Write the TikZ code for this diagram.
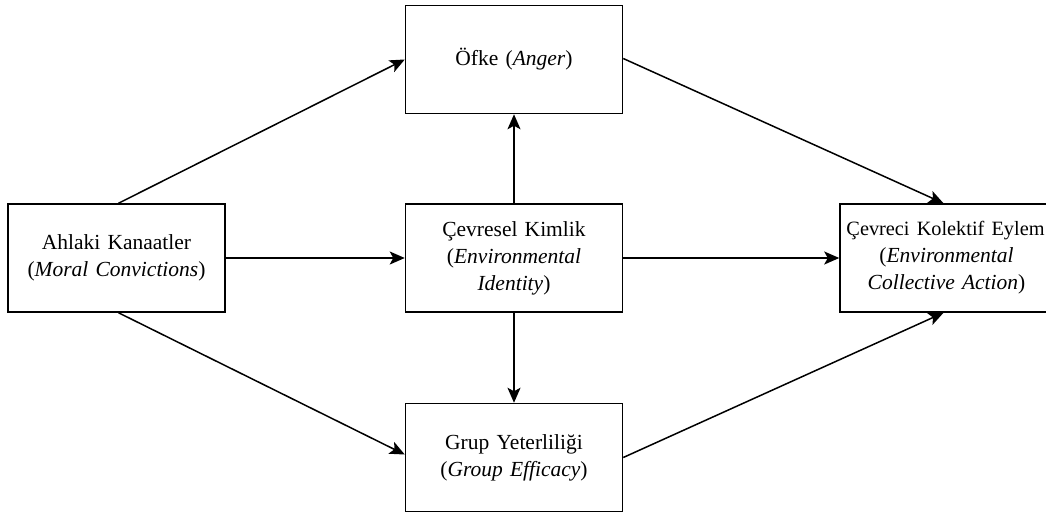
\documentclass[tikz,border=0pt]{standalone}
\usepackage{fontspec}
\setmainfont{Liberation Serif}
\usetikzlibrary{arrows.meta,positioning,calc}

\begin{document}
\begin{tikzpicture}[x=1pt,y=1pt]

  \tikzstyle{every node}=[font=\fontsize{21.5}{27}\selectfont]

  \tikzset{varbox/.style={draw,line width=1.5pt,minimum width=217,minimum height=108,
      text width=212,align=center,inner sep=0pt}}
  \tikzset{myptr/.style={line width=1.5pt,-{Stealth[length=15pt,width=13pt,inset=3.5pt]}}}

  % Frame of the picture
  \useasboundingbox (0,0) rectangle (1046,-512);
  \clip (0,0) rectangle (1046,-512);

  % Entities
  \node[varbox] (Ahlaki) at (116.5,-258) {Ahlaki Kanaatler\\(\textit{Moral Convictions})};
  \node[varbox,right=179 of Ahlaki,text width=170] (Kimlik) {Çevresel Kimlik\\(\textit{Environmental\\Identity})};
  \node[varbox,above=89 of Kimlik] (Ofke) {Öfke (\textit{Anger})};
  \node[varbox,below=90 of Kimlik] (Grup) {Grup Yeterliliği\\(\textit{Group Efficacy})};
  \node[varbox,right=216 of Kimlik,minimum width=213,text width=208] (Eylem)
    {\makebox[0pt]{\fontsize{20.3}{27}\selectfont\hspace*{-2pt}Çevreci Kolektif Eylem}\\(\textit{Environmental\\Collective Action})};

  % Paths out of the moral convictions
  \coordinate (Ahlaki top) at ($(Ahlaki.north) + (2,0)$);
  \coordinate (Ahlaki bottom) at ($(Ahlaki.south) + (2,0)$);
  \draw[myptr] (Ahlaki top) -- (Ofke.west);
  \draw[myptr] (Ahlaki) -- (Kimlik);
  \draw[myptr] (Ahlaki bottom) -- ($(Grup.west) + (0,3)$);

  % Paths out of the environmental identity
  \draw[myptr] (Kimlik) -- (Ofke);
  \draw[myptr] (Kimlik) -- (Grup);
  \draw[myptr] (Kimlik) -- (Eylem);

  % Paths into the collective action
  \coordinate (Eylem top) at ($(Eylem.north) + (-3,0)$);
  \coordinate (Eylem bottom) at ($(Eylem.south) + (-3,0)$);
  \draw[myptr] ($(Ofke.east) + (0,1)$) -- (Eylem top);
  \draw[myptr] (Grup.east) -- (Eylem bottom);

\end{tikzpicture}
\end{document}
